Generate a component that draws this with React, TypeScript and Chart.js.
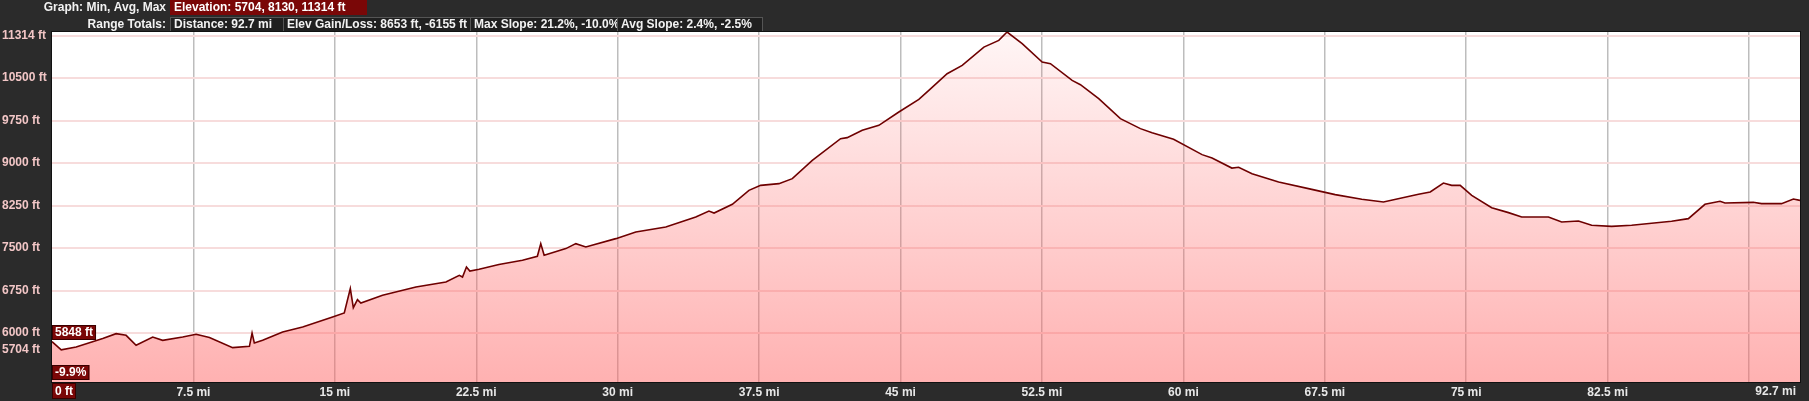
import React, { useEffect, useRef } from 'react';
import { Chart, registerables } from 'chart.js';
Chart.register(...registerables);

// ---- data ----
const distMi = [
  0, 0.49, 1.28, 2.69, 3.4, 3.93, 4.46, 5.34, 5.87, 6.93, 7.64, 8.35, 9.58, 10.47, 10.61, 10.73, 11.17,
  12.23, 13.29, 14.88, 15.5, 15.82, 15.98, 16.2, 16.38, 17.53, 19.3, 20.89, 21.6, 21.77, 21.98, 22.16,
  22.65, 23.7, 24.95, 25.74, 25.92, 26.1, 27.25, 27.78, 28.31, 29.9, 30.96, 32.55, 34.14, 34.84, 35.11,
  36.08, 36.96, 37.58, 38.55, 39.26, 40.32, 41.82, 42.17, 42.97, 43.85, 44.91, 45.97, 46.5, 47.47, 48.27,
  49.42, 50.21, 50.65, 51.45, 52.51, 52.95, 54.1, 54.54, 55.51, 56.66, 57.72, 58.34, 59.48, 60.99, 61.52,
  62.57, 62.93, 63.64, 65.05, 66.81, 68.05, 69.46, 70.61, 72.47, 73.09, 73.79, 74.23, 74.68, 75.29, 76.35,
  77.24, 77.94, 79.36, 80.06, 80.95, 81.65, 82.71, 83.77, 85.89, 86.78, 87.66, 88.46, 88.72, 90.22, 90.66,
  91.72, 92.35, 92.7,
];
const elevFt = [
  5848, 5704, 5753, 5901, 5989, 5959, 5783, 5929, 5871, 5929, 5977, 5919, 5742, 5765, 6000, 5824, 5871,
  6018, 6106, 6282, 6353, 6784, 6448, 6590, 6530, 6665, 6812, 6900, 7018, 6988, 7165, 7094,
  7125, 7210, 7283, 7354, 7578, 7371, 7490, 7578, 7518, 7666, 7783, 7871, 8047, 8153, 8118,
  8272, 8519, 8607, 8637, 8725, 9048, 9431, 9449, 9578, 9666, 9901, 10124, 10284, 10578, 10725,
  11048, 11166, 11314, 11108, 10783, 10755, 10460, 10384, 10137, 9784, 9608, 9537, 9419, 9149, 9089,
  8912, 8925, 8813, 8665, 8536, 8443, 8360, 8312, 8448, 8489, 8648, 8607, 8607, 8430, 8213,
  8125, 8047, 8047, 7959, 7977, 7901, 7883, 7901, 7972, 8019, 8272, 8325, 8295, 8307, 8284,
  8284, 8365, 8342,
];

const xMax = 92.7;
const xTickValues = [0, 7.5, 15, 22.5, 30, 37.5, 45, 52.5, 60, 67.5, 75, 82.5, 90];
const xTickLabels = ['', '7.5 mi', '15 mi', '22.5 mi', '30 mi', '37.5 mi', '45 mi', '52.5 mi', '60 mi', '67.5 mi', '75 mi', '82.5 mi', ''];
const xEndLabel = '92.7 mi';

const yMin = 5135;
const yMax = 11314;
const yTickValues = [5704, 6000, 6750, 7500, 8250, 9000, 9750, 10500, 11250];
const yTickLabels = ['5704 ft', '6000 ft', '6750 ft', '7500 ft', '8250 ft', '9000 ft', '9750 ft', '10500 ft', '11314 ft'];

const headerRow1Title = 'Graph: Min, Avg, Max';
const headerRow1Box = 'Elevation: 5704, 8130, 11314 ft';
const headerRow2Title = 'Range Totals:';
const headerRow2Boxes = ['Distance: 92.7 mi', 'Elev Gain/Loss: 8653 ft, -6155 ft', 'Max Slope: 21.2%, -10.0%', 'Avg Slope: 2.4%, -2.5%'];

const cursorElev = '5848 ft';
const cursorSlope = '-9.9%';
const cursorDist = '0 ft';

// ---- styling ----
const FONT = '"Liberation Sans", Arial, sans-serif';
const DARK_BG = '#2b2b2b';
const RED_BOX = '#7a0707';

const overlayPlugin = {
  id: 'overlay',
  beforeDraw(chart: any) {
    const { ctx, chartArea: ca, width, height } = chart;
    ctx.save();
    ctx.fillStyle = DARK_BG;
    ctx.fillRect(0, 0, width, height);
    ctx.fillStyle = '#ffffff';
    ctx.fillRect(ca.left, ca.top, ca.right - ca.left, ca.bottom - ca.top);
    ctx.restore();
  },
  afterDraw(chart: any) {
    const { ctx, chartArea: ca } = chart;
    ctx.save();
    ctx.font = `bold 12px ${FONT}`;
    ctx.textBaseline = 'middle';

    // header row 1
    ctx.fillStyle = '#f2f2f2';
    ctx.textAlign = 'right';
    ctx.fillText(headerRow1Title, 166, 8);
    ctx.fillStyle = RED_BOX;
    ctx.fillRect(170, 0, 197, 15);
    ctx.fillStyle = '#ffffff';
    ctx.textAlign = 'left';
    ctx.fillText(headerRow1Box, 174, 8);

    // header row 2
    ctx.fillStyle = '#f2f2f2';
    ctx.textAlign = 'right';
    ctx.fillText(headerRow2Title, 166, 24.5);
    const edges = [170, 283, 470, 617, 762];
    ctx.textAlign = 'left';
    headerRow2Boxes.forEach((t, i) => {
      const x0 = edges[i];
      const x1 = edges[i + 1];
      ctx.fillStyle = '#202020';
      ctx.fillRect(x0, 17, x1 - x0, 14);
      ctx.strokeStyle = '#555555';
      ctx.lineWidth = 1;
      ctx.strokeRect(x0 + 0.5, 17.5, x1 - x0, 14);
      ctx.fillStyle = '#f2f2f2';
      ctx.fillText(t, x0 + 4, 24.5);
    });

    // chart border
    ctx.strokeStyle = '#111111';
    ctx.lineWidth = 1;
    ctx.strokeRect(ca.left - 0.5, ca.top - 0.5, ca.right - ca.left + 1, ca.bottom - ca.top + 1);

    // cursor readouts at x = 0
    const drawBox = (t: string, x: number, y: number, h: number) => {
      const w = ctx.measureText(t).width + 6;
      ctx.fillStyle = RED_BOX;
      ctx.fillRect(x, y, w, h);
      ctx.strokeStyle = '#3a0000';
      ctx.strokeRect(x + 0.5, y + 0.5, w - 1, h - 1);
      ctx.fillStyle = '#ffffff';
      ctx.textAlign = 'left';
      ctx.fillText(t, x + 3, y + h / 2 + 0.5);
    };
    drawBox(cursorElev, ca.left, 325, 15);
    drawBox(cursorSlope, ca.left, 365, 15);
    drawBox(cursorDist, ca.left, ca.bottom + 1, 16);

    // x axis end label
    ctx.fillStyle = '#e8e8e8';
    ctx.textAlign = 'right';
    ctx.fillText(xEndLabel, ca.right - 4, 392);
    ctx.restore();
  },
};

export default function App() {
  const ref = useRef<HTMLCanvasElement | null>(null);

  useEffect(() => {
    document.body.style.margin = '0';
    document.body.style.background = DARK_BG;
    const canvas = ref.current;
    if (!canvas) return;
    const points = distMi.map((x, i) => ({ x, y: elevFt[i] }));
    const chart = new Chart(canvas, {
      type: 'line',
      data: {
        datasets: [
          {
            data: points,
            borderColor: '#6e0000',
            borderWidth: 1.6,
            pointRadius: 0,
            tension: 0,
            fill: 'start',
            backgroundColor: (c: any) => {
              const ca = c.chart.chartArea;
              if (!ca) return 'rgba(255,100,100,0.3)';
              const g = c.chart.ctx.createLinearGradient(0, ca.top, 0, ca.bottom);
              g.addColorStop(0, 'rgba(255,100,100,0.06)');
              g.addColorStop(1, 'rgba(255,100,100,0.5)');
              return g;
            },
          },
        ],
      },
      options: {
        animation: false,
        responsive: false,
        devicePixelRatio: 1,
        layout: { padding: { left: 2, right: 9, top: 32, bottom: 0 } },
        plugins: { legend: { display: false }, tooltip: { enabled: false } },
        scales: {
          x: {
            type: 'linear',
            min: 0,
            max: xMax,
            afterBuildTicks: (s: any) => {
              s.ticks = xTickValues.map((v) => ({ value: v }));
            },
            afterFit: (s: any) => {
              s.height = 19;
            },
            ticks: {
              autoSkip: false,
              maxRotation: 0,
              padding: 3,
              color: '#e8e8e8',
              font: { family: FONT, size: 12, weight: 'bold' },
              callback: (_v: any, i: number) => xTickLabels[i] ?? '',
            },
            grid: {
              drawTicks: false,
              color: (c: any) => (c.tick && c.tick.value === 0 ? 'rgba(0,0,0,0)' : '#bdbdbd'),
              lineWidth: 1.5,
            },
            border: { display: false },
          },
          y: {
            type: 'linear',
            min: yMin,
            max: yMax,
            afterBuildTicks: (s: any) => {
              s.ticks = yTickValues.map((v) => ({ value: v }));
            },
            afterFit: (s: any) => {
              s.width = 50;
            },
            ticks: {
              autoSkip: false,
              crossAlign: 'far',
              padding: 0,
              color: '#f2c6c6',
              font: { family: FONT, size: 12, weight: 'bold' },
              callback: (_v: any, i: number) => yTickLabels[i] ?? '',
            },
            grid: {
              drawTicks: false,
              color: (c: any) => (c.tick && c.tick.value === yTickValues[0] ? 'rgba(0,0,0,0)' : '#f7dcdc'),
              lineWidth: 2,
            },
            border: { display: false },
          },
        },
      },
      plugins: [overlayPlugin],
    } as any);
    return () => chart.destroy();
  }, []);

  return <canvas ref={ref} width={1809} height={401} style={{ display: 'block' }} />;
}
